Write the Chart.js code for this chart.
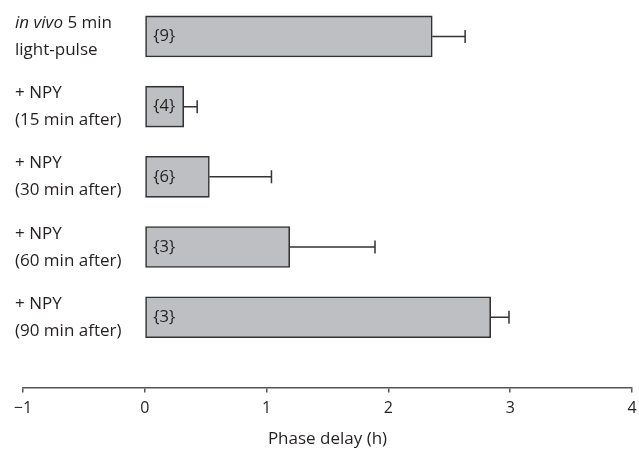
<!DOCTYPE html>
<html>
<head>
<meta charset="utf-8">
<script src="https://cdn.jsdelivr.net/npm/chart.js@4/dist/chart.umd.min.js"></script>
<style>
  html, body { margin: 0; padding: 0; background: #ffffff; }
  #wrap { width: 639px; height: 451px; position: relative; }
</style>
</head>
<body>
<div id="wrap"><canvas id="c"></canvas></div>
<script>
// ---- data ----
const categories = [
  ['in vivo 5 min', 'light-pulse'],
  ['+ NPY', '(15 min after)'],
  ['+ NPY', '(30 min after)'],
  ['+ NPY', '(60 min after)'],
  ['+ NPY', '(90 min after)']
];
const phaseDelay = [2.36, 0.32, 0.53, 1.19, 2.84];
const sem = [0.27, 0.11, 0.51, 0.70, 0.15];
const nValues = [9, 4, 6, 3, 3];
const xTicks = [-1, 0, 1, 2, 3, 4];

const FONT = '"Open Sans", Lato, sans-serif';
const TEXT = '#231f20';
const DARK = '#333333';

const annotatePlugin = {
  id: 'annotate',
  afterDatasetsDraw(chart) {
    const ctx = chart.ctx;
    const xs = chart.scales.x;
    const meta = chart.getDatasetMeta(0);
    ctx.save();
    // error bars
    ctx.strokeStyle = DARK;
    ctx.lineWidth = 1.5;
    meta.data.forEach((bar, i) => {
      const x0 = xs.getPixelForValue(phaseDelay[i]);
      const x1 = xs.getPixelForValue(phaseDelay[i] + sem[i]);
      const y = bar.y;
      ctx.beginPath();
      ctx.moveTo(x0, y); ctx.lineTo(x1, y);
      ctx.moveTo(x1, y - 6.5); ctx.lineTo(x1, y + 6.5);
      ctx.stroke();
    });
    // n labels in bars
    ctx.fillStyle = TEXT;
    ctx.font = '16.5px ' + FONT;
    ctx.textBaseline = 'middle';
    ctx.textAlign = 'left';
    meta.data.forEach((bar, i) => {
      ctx.fillText('{' + nValues[i] + '}', xs.getPixelForValue(0) + 8.5, bar.y);
    });
    // category labels
    meta.data.forEach((bar, i) => {
      const lines = categories[i];
      const base1 = bar.y - 8.5;
      const base2 = bar.y + 18.5;
      ctx.textBaseline = 'alphabetic';
      lines.forEach((line, k) => {
        const yb = k === 0 ? base1 : base2;
        let x = 15;
        if (line.startsWith('in vivo')) {
          ctx.font = 'italic 17px ' + FONT;
          ctx.fillText('in vivo', x, yb);
          x += ctx.measureText('in vivo').width;
          ctx.font = '17px ' + FONT;
          ctx.fillText(line.slice(7), x, yb);
        } else {
          ctx.font = '17px ' + FONT;
          ctx.fillText(line, x, yb);
        }
      });
    });
    ctx.restore();
  }
};

const points = phaseDelay.map((v, i) => ({ x: v, y: i }));

new Chart(document.getElementById('c'), {
  type: 'bar',
  data: {
    datasets: [{
      data: points,
      backgroundColor: '#bebfc3',
      borderColor: DARK,
      borderWidth: 1.6,
      borderSkipped: false,
      barThickness: 41
    }]
  },
  options: {
    indexAxis: 'y',
    responsive: true,
    maintainAspectRatio: false,
    animation: false,
    devicePixelRatio: 1,
    layout: { padding: { left: 23, right: 7, top: 1.35, bottom: 2 } },
    plugins: { legend: { display: false }, tooltip: { enabled: false } },
    scales: {
      y: {
        type: 'linear',
        reverse: true,
        offset: false,
        min: -0.5,
        max: 5.0,
        ticks: { stepSize: 1 },
        display: false
      },
      x: {
        type: 'linear',
        min: -1,
        max: 4,
        position: 'bottom',
        afterBuildTicks: (scale) => { scale.ticks = xTicks.map(v => ({ value: v })); },
        afterFit: (scale) => { scale.paddingLeft = 0; scale.paddingRight = 0; },
        border: { display: true, color: '#555555', width: 1.6 },
        grid: { display: true, drawOnChartArea: false, drawTicks: true, tickLength: 5, color: '#555555', lineWidth: 1.5 },
        ticks: {
          color: TEXT,
          font: { family: FONT, size: 16 },
          padding: 6,
          callback: (v) => (v < 0 ? '\u2212' + Math.abs(v) : String(v))
        },
        title: {
          display: true,
          text: 'Phase delay (h)',
          color: TEXT,
          font: { family: FONT, size: 17 },
          padding: { top: 5, bottom: 0 }
        }
      }
    }
  },
  plugins: [annotatePlugin]
});
</script>
</body>
</html>
